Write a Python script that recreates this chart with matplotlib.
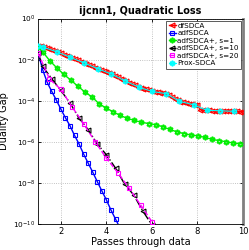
import matplotlib
matplotlib.use("Agg")
import matplotlib.pyplot as plt
import numpy as np

# ---- data (log10 of duality gap) ----
red_x = [1.000, 1.125, 1.250, 1.375, 1.500, 1.625, 1.750, 1.875, 2.000, 2.125, 2.250, 2.375,
         2.500, 2.625, 2.750, 2.875, 3.000, 3.125, 3.250, 3.375, 3.500, 3.625, 3.750, 3.875,
         4.000, 4.125, 4.250, 4.375, 4.500, 4.625, 4.750, 4.875, 5.000, 5.125, 5.250, 5.375,
         5.500, 5.625, 5.750, 5.875, 6.000, 6.125, 6.250, 6.375, 6.500, 6.625, 6.750, 6.875,
         7.000, 7.125, 7.250, 7.375, 7.500, 7.625, 7.750, 7.875, 8.000, 8.125, 8.250, 8.375,
         8.500, 8.625, 8.750, 8.875, 9.000, 9.125, 9.250, 9.375, 9.500, 9.625, 9.750, 9.875,
         10.000]
red_e = [-1.32, -1.36, -1.40, -1.45, -1.50, -1.55, -1.59, -1.64, -1.70, -1.76, -1.82, -1.88,
         -1.93, -1.98, -2.04, -2.10, -2.15, -2.21, -2.27, -2.33, -2.39, -2.44, -2.50, -2.56,
         -2.61, -2.66, -2.72, -2.79, -2.86, -2.93, -3.00, -3.06, -3.12, -3.19, -3.25, -3.32,
         -3.37, -3.41, -3.45, -3.50, -3.54, -3.56, -3.58, -3.61, -3.64, -3.66, -3.74, -3.82,
         -3.90, -3.98, -4.04, -4.08, -4.12, -4.15, -4.18, -4.21, -4.23, -4.44, -4.46, -4.47,
         -4.47, -4.48, -4.48, -4.49, -4.49, -4.50, -4.50, -4.51, -4.51, -4.52, -4.52, -4.53,
         -4.53]

blue_x = [1.0, 1.2, 1.4, 1.6, 1.8, 2.0, 2.2, 2.4, 2.6, 2.8, 3.0, 3.2, 3.4, 3.6, 3.8, 4.0, 4.2, 4.4, 4.6]
blue_e = [-1.68, -2.49, -3.11, -3.55, -3.97, -4.41, -4.83, -5.22, -5.69, -6.11, -6.60, -7.04,
          -7.48, -7.94, -8.39, -8.83, -9.32, -9.76, -10.2]

green_x = [1.0, 1.20, 1.51, 1.82, 2.13, 2.44, 2.75, 3.06, 3.37, 3.68, 3.99, 4.30, 4.61, 4.92,
           5.23, 5.54, 5.85, 6.16, 6.47, 6.78, 7.09, 7.40, 7.71, 8.02, 8.33, 8.64, 8.95,
           9.26, 9.57, 9.88]
green_e = [-1.38, -1.62, -2.05, -2.40, -2.72, -3.00, -3.30, -3.58, -3.82, -4.15, -4.36, -4.54,
           -4.72, -4.86, -4.96, -5.05, -5.11, -5.17, -5.26, -5.40, -5.51, -5.60, -5.67, -5.71,
           -5.79, -5.88, -5.94, -6.00, -6.06, -6.10]

black_x = [1.0, 1.2, 1.6, 2.0, 2.4, 2.8, 3.2, 3.6, 4.0, 4.4, 4.8, 5.2, 5.6, 6.0]
black_e = [-1.68, -2.33, -2.93, -3.50, -4.11, -4.85, -5.41, -6.11, -6.63, -7.28, -8.06, -8.59,
           -9.37, -10.05]

mag_x = [1.0, 1.5, 2.0, 2.5, 3.0, 3.5, 4.0, 4.5, 5.0, 5.5, 6.0]
mag_e = [-1.68, -2.94, -3.45, -4.31, -5.12, -5.99, -6.80, -7.50, -8.26, -9.07, -9.89]

cyan_x = [1.0, 1.23, 1.82, 2.41, 3.02, 3.61, 4.21, 4.82, 5.44, 6.02, 6.63, 7.21, 7.83, 8.42, 9.00, 9.62]
cyan_e = [-1.32, -1.40, -1.62, -1.89, -2.16, -2.44, -2.70, -3.04, -3.35, -3.55, -3.66, -4.03,
          -4.20, -4.47, -4.49, -4.52]

labels = ["dfSDCA", "adfSDCA", "adfSDCA+, s=1", "adfSDCA+, s=10", "adfSDCA+, s=20", "Prox-SDCA"]
title = "ijcnn1, Quadratic Loss"
xlabel = "Passes through data"
ylabel = "Duality Gap"
xticks = [2, 4, 6, 8, 10]
yticks_exp = [0, -2, -4, -6, -8, -10]

plt.rcParams['font.family'] = ['DejaVu Sans']
fig = plt.figure(figsize=(2.49, 2.50), dpi=100)
ax = fig.add_axes([0.153, 0.104, 0.823, 0.822])

star = (6, 1, 0)
p = lambda e: 10.0 ** np.array(e)

ax.plot(red_x, p(red_e), '-', color='red', marker='<', ms=3.5, mfc='none', mew=0.9, lw=1.0, label=labels[0], zorder=3)
ax.plot(blue_x, p(blue_e), '-', color='blue', marker='s', ms=3.0, mfc='none', mew=0.8, lw=1.0, label=labels[1], zorder=4)
ax.plot(green_x, p(green_e), '-', color='#00ee00', marker=star, ms=4.0, mfc='none', mew=1.1, lw=1.0, label=labels[2], zorder=4)
ax.plot(black_x, p(black_e), '-.', color='black', marker='<', ms=3.5, mfc='none', mew=0.8, lw=1.0, label=labels[3], zorder=5)
ax.plot(mag_x, p(mag_e), '--', color='magenta', marker='s', ms=3.0, mfc='none', mew=0.8, lw=1.0, label=labels[4], zorder=5)
ax.plot(cyan_x, p(cyan_e), '-', color='cyan', marker=star, ms=4.0, mfc='none', mew=1.1, lw=0.8, label=labels[5], zorder=6)

ax.set_yscale('log')
ax.set_xlim(1, 10)
ax.set_ylim(1e-10, 1e0)
ax.set_xticks(xticks)
ax.set_xticklabels([str(t) for t in xticks])
ax.set_yticks([10.0 ** e for e in yticks_exp])
ax.set_yticklabels([r'$10^{%d}$' % e for e in yticks_exp])
ax.yaxis.set_minor_locator(matplotlib.ticker.NullLocator())
ax.tick_params(labelsize=6, length=2.5, width=0.6, direction='in', pad=2, top=True, right=True)
ax.tick_params(axis='y', labelsize=5.3)
ax.grid(True, which='major', linestyle=':', color='#b0b0b0', linewidth=0.6)
for s in ['left', 'bottom', 'top']:
    ax.spines[s].set_linewidth(0.6)
ax.spines['right'].set_color('#808080')
ax.spines['right'].set_linewidth(2.0)

ax.set_title(title, fontsize=7, fontweight='bold', pad=3)
ax.set_xlabel(xlabel, fontsize=7, labelpad=1)
ax.set_ylabel(ylabel, fontsize=7)
ax.yaxis.set_label_coords(-0.14, 0.5)

leg = ax.legend(loc='upper right', fontsize=5.2, frameon=True, fancybox=False, edgecolor='#404040',
                borderpad=0.3, labelspacing=0.2, handlelength=1.0, handletextpad=0.2,
                borderaxespad=0.3, framealpha=1)
leg.get_frame().set_linewidth(0.6)

fig.savefig('out.png', dpi=100)
